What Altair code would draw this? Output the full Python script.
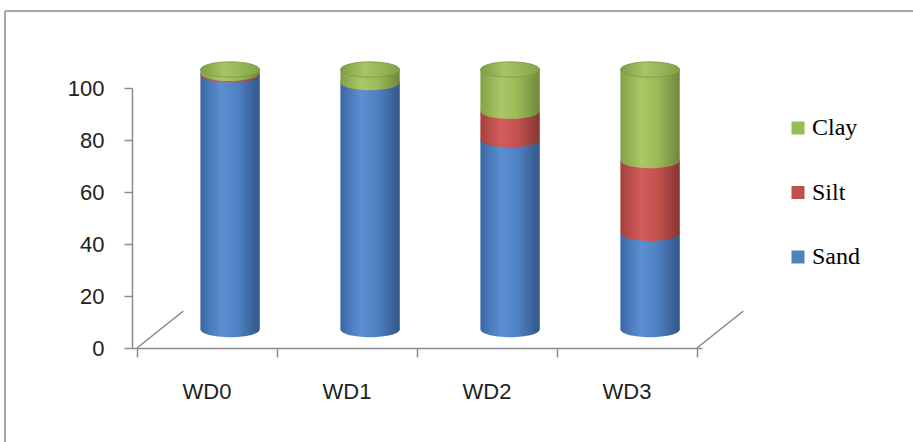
import altair as alt
import pandas as pd

# ---- data ----
categories = ["WD0", "WD1", "WD2", "WD3"]
sand = [98, 95, 73, 37]
silt = [0.5, 0, 11, 28]
clay = [1.5, 5, 16, 35]
series_names = ["Sand", "Silt", "Clay"]
legend_order = ["Clay", "Silt", "Sand"]
y_ticks = [0, 20, 40, 60, 80, 100]

# ---- style ----
FLAT = {"Sand": "#4F81BD", "Silt": "#C0504D", "Clay": "#9BBB59"}
DEPTH_X = 0.33     # floor depth in band units
DEPTH_Y = 14.2     # floor depth in value units
GRAY = "#8c8c8c"
FONT = "Liberation Sans"
W, H = 570, 260
ELLIPSE = "M-1,0A1,0.26,0,1,0,1,0A1,0.26,0,1,0,-1,0Z"
BAR_W = 59


def grad(stops):
    return alt.LinearGradient(
        gradient="linear", x1=0, x2=1, y1=0, y2=0,
        stops=[alt.GradientStop(color=c, offset=o) for o, c in stops])


GRAD = {
    "Sand": grad([(0, "#3b68a4"), (0.35, "#5b8fd2"), (0.62, "#4f82c3"), (1, "#33578a")]),
    "Silt": grad([(0, "#a5413e"), (0.35, "#d35d5a"), (0.62, "#c4514e"), (1, "#873634")]),
    "Clay": grad([(0, "#83a148"), (0.35, "#a8c966"), (0.62, "#9bbb59"), (1, "#6f883e")]),
}
CAP = grad([(0, "#7f9c45"), (0.4, "#a6c764"), (1, "#84a249")])

rows = []
for i, c in enumerate(categories):
    lo = 0.0
    for s, vals in zip(series_names, [sand, silt, clay]):
        v = vals[i]
        rows.append({"cat": c, "idx": i, "series": s, "lo": lo, "hi": lo + v, "value": v})
        lo += v
df = pd.DataFrame(rows)
cat_df = pd.DataFrame({"cat": categories, "idx": list(range(len(categories)))})
floor_df = pd.DataFrame({"x": [-0.5, len(categories) - 0.5]})

x_scale = alt.Scale(domain=[-0.5, len(categories) - 0.5], nice=False, zero=False)
y_scale = alt.Scale(domain=[0, 100], nice=False)
x_axis = alt.Axis(values=[-0.5 + k for k in range(len(categories) + 1)], labels=False,
                  title=None, grid=False, tickSize=9, domainColor=GRAY, tickColor=GRAY,
                  domainWidth=1.5, tickWidth=1.5)
y_axis = alt.Axis(values=y_ticks, title=None, grid=False, tickSize=8, labelPadding=20,
                  labelFont=FONT, labelFontSize=22, labelColor="#222",
                  domainColor=GRAY, tickColor=GRAY, domainWidth=1.5, tickWidth=1.5)


def X(f):
    return alt.X(f, scale=x_scale, axis=x_axis)


def Y(f):
    return alt.Y(f, scale=y_scale, axis=y_axis)


base = alt.Chart(df).transform_calculate(
    xb=f"datum.idx + {DEPTH_X / 2}",
    y0=f"datum.lo + {DEPTH_Y / 2}",
    y1=f"datum.hi + {DEPTH_Y / 2}",
)

# legend-driving flat bars (covered by the shaded ones)
legend_bars = base.mark_bar(size=BAR_W).encode(
    x=X("xb:Q"), y=Y("y0:Q"), y2="y1:Q",
    color=alt.Color("series:N",
                    scale=alt.Scale(domain=legend_order, range=[FLAT[s] for s in legend_order]),
                    legend=alt.Legend(orient="none", legendX=654, legendY=28, title=None,
                                      symbolType="square", symbolSize=169, symbolStrokeWidth=0,
                                      labelFont="Liberation Serif", labelFontSize=24,
                                      labelColor="black", rowPadding=40.5, labelOffset=2,
                                      padding=0)),
)

layers = [legend_bars]
for s in series_names:
    layers.append(base.transform_filter(alt.datum.series == s).mark_bar(
        size=BAR_W, fill=GRAD[s], strokeWidth=0).encode(x=X("xb:Q"), y=Y("y0:Q"), y2="y1:Q"))
for s in series_names:
    layers.append(base.transform_filter(alt.datum.series == s).mark_point(
        shape=ELLIPSE, size=BAR_W ** 2, filled=True, fill=GRAD[s], opacity=1, strokeWidth=0
    ).encode(x=X("xb:Q"), y=Y("y0:Q")))
layers.append(base.transform_filter(alt.datum.series == "Clay").mark_point(
    shape=ELLIPSE, size=BAR_W ** 2, filled=True, fill=CAP, opacity=1,
    stroke="#7a9845", strokeWidth=0.8
).encode(x=X("xb:Q"), y=Y("y1:Q")))

floor = alt.Chart(floor_df).transform_calculate(
    x2=f"datum.x + {DEPTH_X}", y0="0", y2=f"{DEPTH_Y}"
).mark_rule(color=GRAY, strokeWidth=1.5).encode(
    x=X("x:Q"), x2="x2:Q", y=Y("y0:Q"), y2="y2:Q")
layers.append(floor)

labels = alt.Chart(cat_df).mark_text(font=FONT, fontSize=22, color="#222",
                                     baseline="middle", align="center").encode(
    x=X("idx:Q"), y=alt.value(H + 44), text="cat:N")
layers.append(labels)

frame_data = alt.Data(values=[{}])
frame_top = alt.Chart(frame_data).mark_rule(color="#a6a6a6", strokeWidth=2).encode(
    x=alt.value(-127), x2=alt.value(913 - 132 + 5), y=alt.value(-77))
frame_left = alt.Chart(frame_data).mark_rule(color="#a6a6a6", strokeWidth=2).encode(
    x=alt.value(-127), y=alt.value(-77), y2=alt.value(442 - 88 + 5))
layers += [frame_top, frame_left]

chart = alt.layer(*layers).properties(
    width=W, height=H,
    autosize=alt.AutoSizeParams(type="none"),
    padding={"left": 132, "top": 88, "right": 913 - 132 - W, "bottom": 442 - 88 - H},
    background="white",
).configure_view(strokeWidth=0)

chart.save("out.html", embed_options={"renderer": "svg", "actions": False})
